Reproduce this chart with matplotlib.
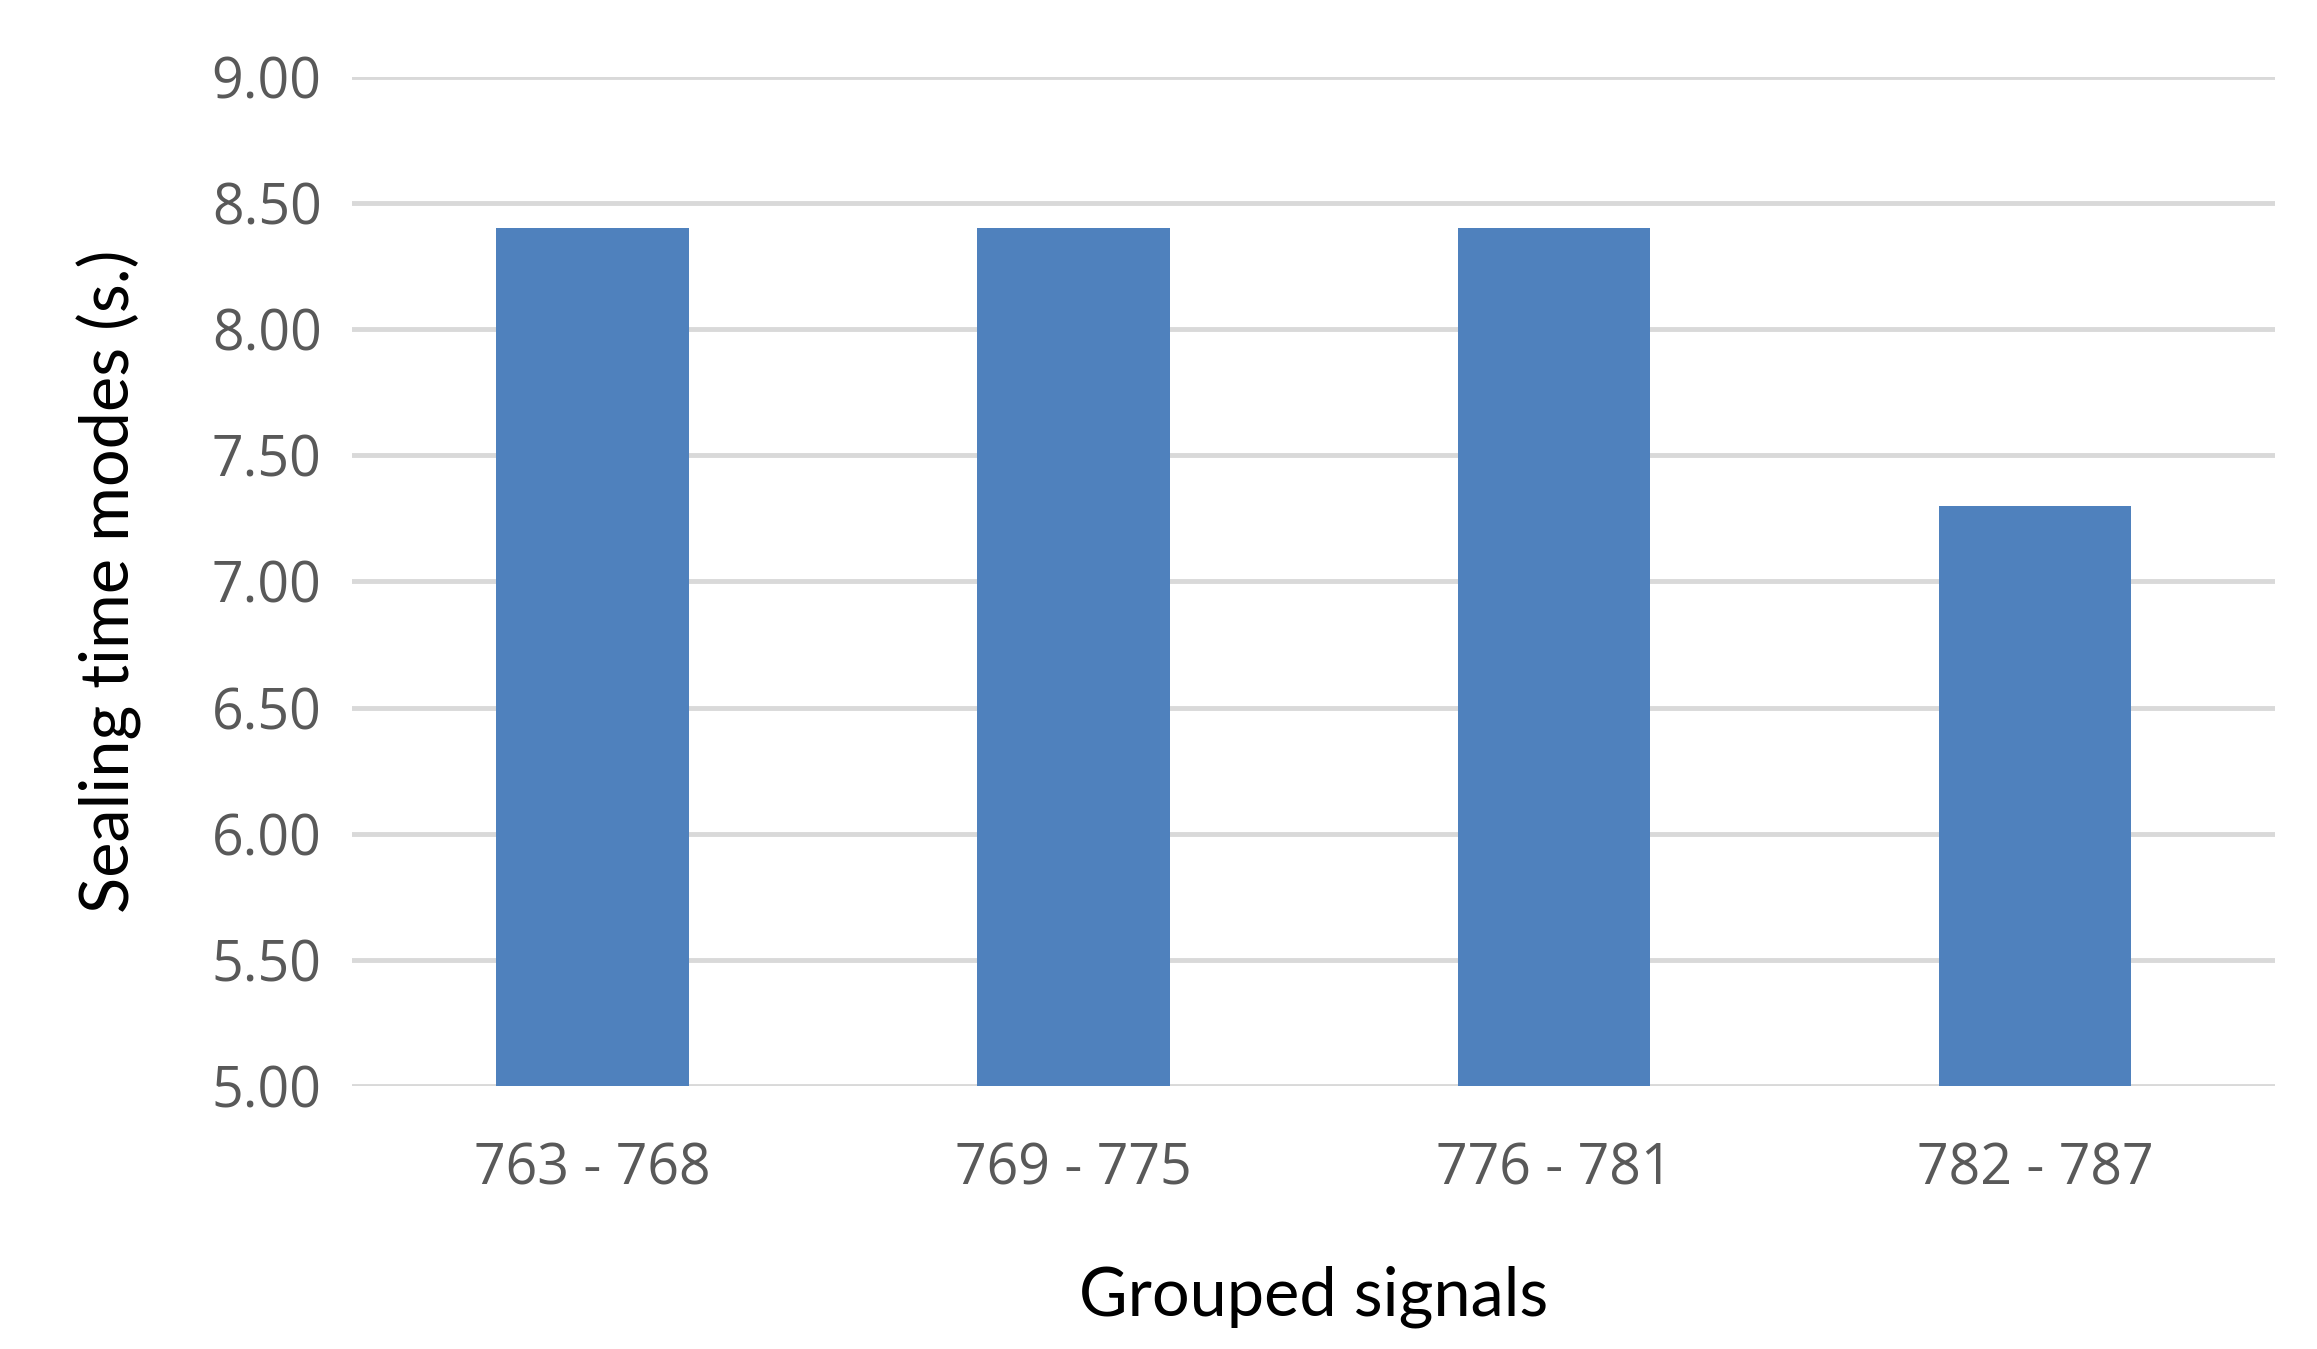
import matplotlib
matplotlib.use("Agg")
import matplotlib.pyplot as plt

# data
groups = ["763 - 768", "769 - 775", "776 - 781", "782 - 787"]
modes = [8.40, 8.40, 8.40, 7.30]
yticks = [5.0, 5.5, 6.0, 6.5, 7.0, 7.5, 8.0, 8.5, 9.0]

fig = plt.figure(figsize=(23.17, 13.49), dpi=100)
ax = fig.add_axes([0.152, 0.195, 0.83, 0.748])

x = range(len(groups))
ax.bar(x, modes, width=0.4, color="#4F81BD", zorder=3)

ax.set_ylim(5, 9)
ax.set_xlim(-0.5, len(groups) - 0.5)
ax.set_yticks(yticks)
ax.set_yticklabels([f"{v:.2f}" for v in yticks], fontsize=40, color="#595959", family="Open Sans")
ax.set_xticks(list(x))
ax.set_xticklabels(groups, fontsize=40, color="#595959", family="Open Sans")
ax.tick_params(axis="y", length=0, pad=22)
ax.tick_params(axis="x", length=0, pad=40)
ax.grid(axis="y", color="#D9D9D9", linewidth=3.5, zorder=0)
for s in ax.spines.values():
    s.set_visible(False)

ax.set_xlabel("Grouped signals", fontsize=48, family="Lato", labelpad=48)
ax.set_ylabel("Sealing time modes (s.)", fontsize=48, family="Lato", labelpad=50)

fig.savefig("out.png")
